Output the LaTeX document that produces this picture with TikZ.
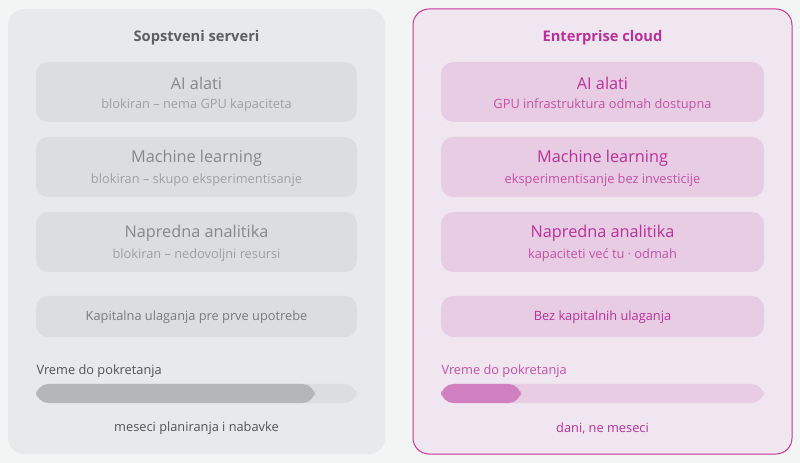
\documentclass[tikz,border=0pt]{standalone}
\usepackage{fontspec}
\setmainfont{Open Sans}
\definecolor{pagebg}{HTML}{F3F4F4}
\definecolor{leftbg}{HTML}{E8E9EA}
\definecolor{leftbox}{HTML}{DCDDDF}
\definecolor{lefttext}{HTML}{85888C}
\definecolor{leftbar}{HTML}{B4B6B9}
\definecolor{rightbg}{HTML}{F0E6EF}
\definecolor{rightline}{HTML}{C8359B}
\definecolor{rightbox}{HTML}{E8CCE3}
\definecolor{righttext}{HTML}{B8309A}
\definecolor{rightbar}{HTML}{D07FC0}
\tikzset{every picture/.style={line width=0.75pt}}
\tikzset{
  panel/.style={rounded corners=12pt},
  ttl/.style={font=\fontsize{11}{13}\selectfont\bfseries},
  big/.style={font=\fontsize{12.2}{15}\selectfont},
  small/.style={font=\fontsize{9.6}{12}\selectfont},
}
\begin{document}
\begin{tikzpicture}[x=0.75pt,y=0.75pt,yscale=-1,xscale=1]
    \fill[pagebg] (0,0) rectangle (800,463);
    \useasboundingbox (0,0) rectangle (800,463);
    % Panels
    \fill[leftbg, panel] (8,9) rectangle (385,454);
    \filldraw[fill=rightbg, draw=rightline, panel] (413,9) rectangle (792,454);
    \node[ttl, text=lefttext!70!black] (ltitle) at (196.5,38) {Sopstveni serveri};
    \node[ttl, text=righttext] (rtitle) at (602.5,38) {Enterprise cloud};
    % Left items
    \foreach \y/\t/\s [count=\i] in {62/AI alati/blokiran -- nema GPU kapaciteta,
        137/Machine learning/blokiran -- skupo eksperimentisanje,
        212/Napredna analitika/blokiran -- nedovoljni resursi}{
      \fill[leftbox, rounded corners=9pt] (36,\y) rectangle (357,\y+60);
      \node[big, text=lefttext] (lt\i) at (196.5,\y+21) {\t};
      \node[small, text=lefttext!80] (ls\i) at (196.5,\y+43) {\s};
    }
    % Right items
    \foreach \y/\t/\s [count=\i] in {62/AI alati/GPU infrastruktura odmah dostupna,
        137/Machine learning/eksperimentisanje bez investicije,
        212/Napredna analitika/kapaciteti već tu · odmah}{
      \fill[rightbox, rounded corners=9pt] (441,\y) rectangle (764,\y+60);
      \node[big, text=righttext] (rt\i) at (602.5,\y+21) {\t};
      \node[small, text=righttext!85!white] (rs\i) at (602.5,\y+43) {\s};
    }
    % Capital boxes
    \fill[leftbox, rounded corners=9pt] (36,296) rectangle (357,337);
    \node[small, text=lefttext!90!black] (lcap) at (196.5,317.5) {Kapitalna ulaganja pre prve upotrebe};
    \fill[rightbox, rounded corners=9pt] (441,296) rectangle (764,337);
    \node[small, text=righttext] (rcap) at (602.5,317.5) {Bez kapitalnih ulaganja};
    % Bars
    \node[small, text=lefttext!60!black, anchor=west, inner sep=0pt] (lvr) at (36,371) {Vreme do pokretanja};
    \fill[leftbox, rounded corners=9.5pt] (36,384) rectangle (357,403);
    \fill[leftbar, rounded corners=9.5pt] (36,384) rectangle (315,403);
    \node[small, text=lefttext!60!black] (lcap2) at (196.5,428) {meseci planiranja i nabavke};
    \node[small, text=righttext!85!white, anchor=west, inner sep=0pt] (rvr) at (441,371) {Vreme do pokretanja};
    \fill[rightbox, rounded corners=9.5pt] (441,384) rectangle (764,403);
    \fill[rightbar, rounded corners=9.5pt] (441,384) rectangle (521,403);
    \node[small, text=righttext] (rcap2) at (602.5,428) {dani, ne meseci};
\end{tikzpicture}
\end{document}
